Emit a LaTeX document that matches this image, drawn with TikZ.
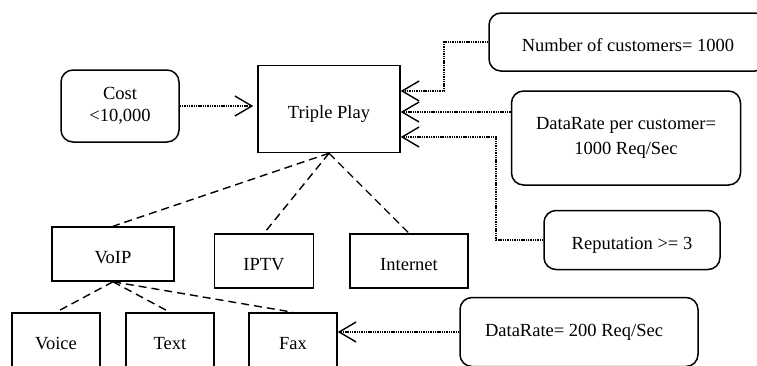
\documentclass[tikz,border=0pt]{standalone}
\usepackage{fontspec}
\setmainfont{Liberation Serif}
\usetikzlibrary{arrows.meta}

\tikzset{
	sqbox/.style={draw, line width=1.5pt, inner sep=0pt, text height=19pt, text depth=0pt},
	rdbox/.style={draw, line width=1.5pt, rounded corners=12pt, inner sep=0pt, align=center},
	oneln/.style={text height=19pt, text depth=0pt},
	dashln/.style={line width=1.4pt, dash pattern=on 8pt off 5pt},
	dotarr/.style={line width=1.6pt, dash pattern=on 1.4pt off 0.9pt,
		-{Straight Barb[length=17pt,width=20pt,line width=1.4pt]}},
}

\begin{document}
\begin{tikzpicture}[x=1pt, y=-1pt, font=\fontsize{18.5}{22}\selectfont]
		\useasboundingbox (0,0) rectangle (757,365);
		
		\node (cost) at (120,106) [rdbox, minimum width=118pt, minimum height=72pt] {Cost\\<10,000};
		\node (tp) at (329,109) [sqbox, minimum width=142pt, minimum height=87pt] {Triple Play};
		\node (ncust) at (628,42) [rdbox, oneln, minimum width=278pt, minimum height=58pt] {Number of customers= 1000};
		\node (rate) at (626,138) [rdbox, minimum width=229pt, minimum height=94pt] {DataRate per customer=\\[3pt]1000 Req/Sec};
		\node (rep) at (632,240) [rdbox, oneln, minimum width=176pt, minimum height=59pt] {Reputation >= 3};
		\node (fxrate) at (579,332) [rdbox, minimum width=238pt, minimum height=69pt] {DataRate= 200 Req/Sec\hspace{10pt}};
		
		\node (voip) at (113,254) [sqbox, minimum width=122pt, minimum height=54pt] {VoIP};
		\node (iptv) at (264,261) [sqbox, minimum width=99pt, minimum height=54pt] {IPTV};
		\node (inet) at (409,261) [sqbox, minimum width=118pt, minimum height=54pt] {Internet};
		\node (voice) at (56,340) [sqbox, minimum width=88pt, minimum height=54pt] {Voice};
		\node (text) at (170,340) [sqbox, minimum width=88pt, minimum height=54pt] {Text};
		\node (fax) at (293,340) [sqbox, minimum width=88pt, minimum height=54pt] {Fax};
		
		\draw [dotarr, shorten >=4pt] (cost.east) -- (cost.east -| tp.west);
		\draw [dotarr] (ncust.west) -- ++(-44,0) |- ([yshift=18pt]tp.east);
		\draw [dotarr] ([yshift=-3pt]rate.west |- tp.east) -- ([yshift=-3pt]tp.east);
		\draw [dotarr] (rep.west) -- ++(-47,0) |- ([yshift=-28pt]tp.east);
		\draw [dotarr] (fxrate.west) -- (fxrate.west -| fax.east);
		
		\draw [dashln] (tp.south) -- (voip.north);
		\draw [dashln] (tp.south) -- (iptv.north);
		\draw [dashln] (tp.south) -- (inet.north);
		\draw [dashln] (voip.south) -- (voice.north);
		\draw [dashln] (voip.south) -- (text.north);
		\draw [dashln] (voip.south) -- (fax.north);
		\end{tikzpicture}
\end{document}
